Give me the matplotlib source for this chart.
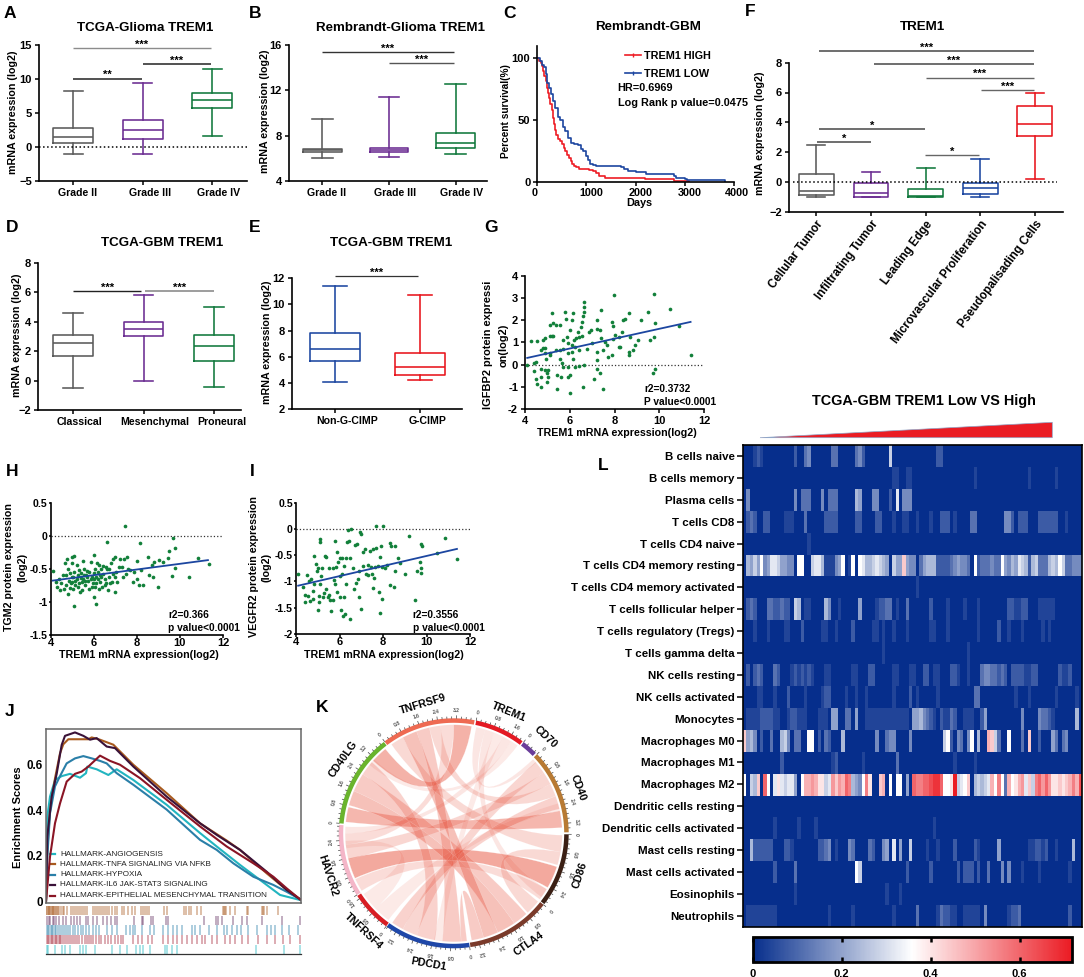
import numpy as np
import matplotlib
matplotlib.use('Agg')
import matplotlib.pyplot as plt
from matplotlib.colors import LinearSegmentedColormap
from matplotlib.lines import Line2D
from matplotlib.patches import PathPatch, Polygon
from matplotlib.path import Path
from matplotlib.transforms import Affine2D

plt.rcParams['font.family'] = ['Liberation Sans', 'DejaVu Sans']
plt.rcParams['font.weight'] = 'bold'

W, H = 1084, 977
GRAY, PURPLE, GREEN = '#5a5a5a', '#6a2c91', '#10783c'
BLUE, RED = '#1c46a0', '#e8141c'

# box stats: low whisker, q1, median, q3, high whisker
a_cats = ['Grade II', 'Grade III', 'Grade IV']
a_stats = [[-1.0, 0.6, 1.5, 2.8, 8.3], [-1.0, 1.2, 2.5, 4.0, 9.5], [1.7, 5.8, 6.9, 8.0, 11.5]]
b_stats = [[6.0, 6.6, 6.7, 6.85, 9.5], [6.1, 6.6, 6.7, 6.95, 11.4], [6.35, 6.9, 7.35, 8.25, 12.55]]
d_cats = ['Classical', 'Mesenchymal', 'Proneural']
d_stats = [[-0.53, 1.69, 2.52, 3.09, 4.58], [-0.05, 3.02, 3.48, 3.95, 5.78], [-0.46, 1.35, 2.37, 3.09, 4.99]]
e_cats = ['Non-G-CIMP', 'G-CIMP']
e_stats = [[4.08, 5.68, 6.62, 7.81, 11.37], [4.23, 4.64, 5.2, 6.29, 10.73]]
f_cats = ['Cellular Tumor', 'Infiltrating Tumor', 'Leading Edge', 'Microvascular Proliferation', 'Pseudopalisading Cells']
f_stats = [[-1.04, -0.86, -0.6, 0.53, 2.45], [-1.0, -1.0, -0.77, -0.05, 0.64], [-1.04, -1.0, -0.95, -0.48, 0.95],
           [-1.04, -0.81, -0.43, -0.05, 1.53], [0.17, 3.06, 3.88, 5.09, 5.94]]

# survival
red_days = [0, 40, 70, 95, 120, 145, 168, 190, 215, 240, 265, 290, 313, 340, 365, 386, 420, 460, 495, 540, 570, 605,
            640, 680, 714, 750, 787, 850, 969, 1050, 1130, 1188, 1250, 1370, 1700, 2200, 2750, 2790, 3000, 3080]
red_pct = [100, 98, 96, 94, 90, 86, 82, 76, 72, 68, 63, 58, 52, 47, 42, 38, 35, 33, 31, 28, 25, 22,
           20, 17, 15, 13, 12, 11, 10.7, 10, 9, 7.3, 5, 3.4, 3.2, 3, 2.7, 1, 1, 0]
blue_days = [0, 50, 95, 131, 170, 204, 240, 280, 313, 360, 423, 470, 520, 568, 620, 678, 750, 823, 880, 933, 985,
             1040, 1078, 1130, 1188, 1698, 1760, 1844, 2000, 2208, 2780, 2830, 3009, 3050, 3800, 3810]
blue_pct = [100, 98, 95, 93, 87, 80, 76, 71, 66, 60, 53, 50, 45, 41, 36, 32, 31, 30, 27, 25, 21,
            18, 15, 14, 12.8, 12.6, 11, 9.5, 8.5, 7, 5.3, 3.6, 3, 2, 2, 0]

# scatter panels (x, y)
igfbp2_pts = [(4.1, 0), (4.25, 1.05), (4.4, 0.05), (4.4, -0.3), (4.55, 1.05), (4.5, 0.1), (4.7, -0.2), (4.5, -0.63), (4.55, -0.88),
              (4.7, -1), (4.7, -0.55), (4.73, 0.65), (4.8, 0.75), (4.8, 1.1), (4.9, 1.2), (4.9, 0.75), (4.9, 0.5), (4.95, 0.27),
              (4.9, -0.25), (5, -0.4), (5, -0.8), (5.05, -0.25), (5.05, -0.55), (5.1, 0.52), (5.1, 1.27), (5.2, 1.27), (5.25, 1.3),
              (5.1, 0.42), (5.12, 1.77), (5.22, 2.3), (5.27, 1.85), (5.4, 1.77), (5.4, 0.65), (5.45, -0.48), (5.45, -1.12),
              (5.55, 1.77), (5.55, 0.65), (5.55, 0.27), (5.6, -0.55), (5.65, 0.05), (5.7, 1.12), (5.7, 0.72), (5.7, -0.1),
              (5.8, 2.37), (5.85, 2.07), (5.87, 1.25), (5.9, 0.95), (5.9, 0.5), (5.9, -0.1), (5.9, -0.55), (6, -0.48), (6.03, -1.3),
              (6, 1.55), (6.1, 2), (6.13, 2.32), (6.08, 0.87), (6.08, 0.57), (6.15, 0.27), (6.2, 1.1), (6.25, -0.1), (6.25, 0.8),
              (6.3, 1.2), (6.35, 1.47), (6.4, 1.25), (6.4, -0.07), (6.43, 0.65), (6.5, 1.7), (6.55, 1.92), (6.55, 1.3), (6.6, 2.2),
              (6.62, 2.37), (6.63, 2.6), (6.65, 2.82), (6.6, -1.03), (6.62, -0.03), (6.75, 0.72), (6.88, 1.47), (6.95, 1.55),
              (7, 0.97), (7.1, -0.63), (7.2, 2.02), (7.2, 1.62), (7.2, 0.57), (7.23, 0.2), (7.23, -0.18), (7.33, 1.55), (7.33, -0.4),
              (7.39, 2.45), (7.39, 1.2), (7.5, 0.65), (7.5, -1.12), (7.58, 1.02), (7.65, 0.87), (7.73, 0.35), (7.88, 0.42),
              (7.9, 1.92), (7.95, 1.74), (7.95, 1.17), (7.98, 3.15), (8.03, 1.32), (8.18, 1.25), (8.18, 0.8), (8.25, 0.77),
              (8.33, 1.47), (8.37, 2.02), (8.45, 2.07), (8.63, 2.3), (8.63, 0.57), (8.65, 0.42), (8.7, 1.25), (8.82, 0.67),
              (8.9, 0.87), (9.03, 1.1), (9.18, 2.02), (9.5, 2.37), (9.57, 1.12), (9.7, -0.37), (9.78, 3.16), (9.78, 1.25),
              (9.82, -0.18), (9.82, 1.85), (10.5, 2.5), (10.9, 1.72), (11.4, 0.42)]
tgm2_pts = [(4.1, -0.54), (4.25, -0.7), (4.3, -0.77), (4.4, -0.65), (4.45, -0.82), (4.5, -0.72), (4.55, -0.6), (4.6, -0.8), (4.65, -0.42),
            (4.7, -0.6), (4.7, -0.75), (4.75, -0.35), (4.8, -0.88), (4.8, -0.5), (4.85, -0.68), (4.9, -0.57), (4.95, -0.72), (5, -0.33),
            (5, -0.62), (5, -0.42), (5.05, -0.8), (5.1, -0.31), (5.1, -0.55), (5.1, -1.07), (5.15, -0.68), (5.2, -0.45), (5.25, -0.6),
            (5.3, -0.72), (5.35, -0.85), (5.4, -0.56), (5.45, -0.82), (5.5, -0.38), (5.5, -0.66), (5.55, -0.5), (5.6, -0.75), (5.65, -0.6),
            (5.7, -0.53), (5.75, -0.68), (5.8, -0.8), (5.85, -0.4), (5.9, -0.62), (5.95, -0.72), (6, -0.29), (6, -0.93), (6, -0.56),
            (6.05, -0.78), (6.1, -1.03), (6.1, -0.62), (6.15, -0.42), (6.2, -0.55), (6.25, -0.8), (6.3, -0.6), (6.3, -0.7), (6.35, -0.5),
            (6.4, -0.78), (6.45, -0.46), (6.5, -0.65), (6.55, -0.72), (6.6, -0.1), (6.6, -0.5), (6.65, -0.83), (6.7, -0.62), (6.8, -0.42),
            (6.85, -0.7), (6.9, -0.35), (7, -0.33), (7, -0.85), (7.05, -0.55), (7.1, -0.7), (7.2, -0.36), (7.3, -0.48), (7.35, -0.62),
            (7.4, -0.35), (7.47, 0.15), (7.5, -0.58), (7.55, -0.33), (7.6, -0.5), (7.7, -0.52), (7.8, -0.7), (7.85, -0.55), (8, -0.38),
            (8, -0.65), (8.1, -0.75), (8.15, -0.11), (8.2, -0.52), (8.3, -0.75), (8.5, -0.33), (8.55, -0.6), (8.7, -0.45), (8.75, -0.62),
            (8.8, -0.4), (9, -0.77), (9.05, -0.37), (9.2, -0.4), (9.5, -0.23), (9.63, -0.61), (9.7, -0.03), (9.75, -0.18), (9.75, -0.49),
            (9.45, -0.34), (10.4, -0.63), (10.85, -0.34), (11.33, -0.43), (4.9, -0.79), (5.0, -0.7), (5.05, -0.63), (5.12, -0.75),
            (5.2, -0.66), (5.25, -0.78), (5.3, -0.52), (5.4, -0.64), (5.45, -0.7), (5.55, -0.6), (5.6, -0.68), (5.7, -0.62), (5.8, -0.55),
            (5.85, -0.65), (5.9, -0.78), (6.0, -0.66), (6.05, -0.5), (6.1, -0.72), (6.2, -0.66), (6.25, -0.45), (6.35, -0.62), (6.45, -0.58),
            (6.5, -0.75), (6.55, -0.48), (6.7, -0.5), (6.75, -0.72), (6.9, -0.58), (7.0, -0.62), (7.15, -0.48)]
vegfr2_pts = [(4.1, -0.85), (4.3, -1.1), (4.4, -1.25), (4.4, -1.4), (4.5, -0.87), (4.55, -1.28), (4.6, -1), (4.65, -1.38), (4.7, -0.95),
              (4.8, -1.33), (4.8, -1.18), (4.85, -1.05), (4.85, -0.52), (4.9, -0.66), (4.95, -0.8), (5, -0.75), (5, -1.55), (5.05, -1.27),
              (5.05, -1.4), (5.1, -0.2), (5.1, -0.25), (5.1, -1.05), (5.15, -0.9), (5.2, -0.75), (5.25, -1.3), (5.3, -1.22), (5.35, -0.52),
              (5.4, -0.54), (5.4, -1.15), (5.45, -1.3), (5.5, -0.75), (5.5, -1.26), (5.55, -1.36), (5.6, -1.57), (5.7, -0.74), (5.7, -1.35),
              (5.75, -0.98), (5.8, -0.22), (5.8, -1.05), (5.85, -0.72), (5.9, -0.43), (5.9, -1.2), (5.95, -0.62), (6, -0.9), (6, -0.55),
              (6, -1.3), (6.05, -1.55), (6.1, -0.56), (6.1, -0.86), (6.15, -1.65), (6.2, -1.3), (6.2, -0.7), (6.25, -1.62), (6.3, -0.56),
              (6.3, -1.05), (6.35, -0.25), (6.4, -0.02), (6.45, -0.22), (6.5, -0.56), (6.5, -1.72), (6.55, 0), (6.6, -0.75), (6.65, -1.15),
              (6.7, -0.3), (6.75, -1.02), (6.8, -0.28), (6.85, -0.96), (6.9, -0.8), (6.9, -1.3), (6.95, -0.05), (7, -0.09), (7, -1.52),
              (7.1, -0.44), (7.15, -0.38), (7.2, -0.85), (7.3, -0.68), (7.4, -0.42), (7.5, -0.85), (7.55, -1.13), (7.6, -0.93), (7.55, -0.38),
              (7.7, 0.06), (7.7, -0.36), (7.75, -0.7), (7.8, -1.2), (7.85, -0.54), (7.86, -1.6), (7.9, -0.33), (7.94, -1.33), (8, 0.06),
              (8.1, -0.75), (8.3, -0.26), (8.35, -0.33), (8.3, -1.07), (8.5, -1.1), (8.55, -0.8), (8.55, -0.33), (8.7, -0.55), (8.8, -0.65),
              (9, -0.85), (9.2, -0.13), (9.47, -1.36), (9.55, -0.8), (9.73, -0.83), (9.73, -0.75), (9.7, -0.62), (9.78, -0.33), (9.73, -0.28),
              (10.47, -0.45), (10.85, -0.17), (11.39, -0.58), (7.1, -0.7), (7.3, -0.88), (7.45, -0.72), (7.65, -0.72), (7.95, -0.72), (8.2, -0.68)]

# enrichment curves: rank, score
gsea_names = ['HALLMARK-ANGIOGENSIS', 'HALLMARK-TNFA SIGNALING VIA NFKB', 'HALLMARK-HYPOXIA',
              'HALLMARK-IL6 JAK-STAT3 SIGNALING', 'HALLMARK-EPITHELIAL MESENCHYMAL TRANSITION']
gsea_colors = ['#22b5c0', '#a85a1e', '#2a7fa8', '#3a1238', '#8a1525']
angio_rank = [0, 4, 12, 27, 47, 72, 102, 120, 124, 152, 187, 212, 262, 362, 462, 512, 582, 642, 702, 762]
angio_es = [0, 0.372, 0.46, 0.533, 0.55, 0.56, 0.543, 0.563, 0.592, 0.58, 0.555, 0.58, 0.533, 0.424, 0.3, 0.241, 0.16, 0.094, 0.028, 0.006]
tnfa_rank = [0, 4, 12, 27, 42, 52, 67, 102, 127, 137, 162, 202, 262, 362, 462, 542, 582, 662, 722, 762]
tnfa_es = [0, 0.226, 0.4, 0.54, 0.65, 0.69, 0.712, 0.712, 0.712, 0.72, 0.71, 0.688, 0.6, 0.475, 0.343, 0.267, 0.226, 0.123, 0.05, 0.009]
hypoxia_rank = [0, 4, 12, 27, 42, 62, 87, 112, 137, 162, 182, 212, 262, 362, 462, 512, 562, 622, 682, 722, 762]
hypoxia_es = [0, 0.196, 0.387, 0.505, 0.55, 0.606, 0.628, 0.638, 0.628, 0.617, 0.606, 0.563, 0.512, 0.403, 0.27, 0.226, 0.167, 0.108, 0.072, 0.042, 0.009]
il6_rank = [0, 4, 17, 32, 47, 57, 87, 112, 132, 152, 182, 207, 262, 362, 462, 512, 582, 662, 722, 762]
il6_es = [0, 0.285, 0.46, 0.56, 0.687, 0.727, 0.742, 0.727, 0.71, 0.717, 0.68, 0.673, 0.592, 0.46, 0.343, 0.292, 0.226, 0.13, 0.05, 0.009]
emt_rank = [0, 12, 27, 42, 62, 87, 107, 127, 162, 192, 222, 282, 362, 462, 542, 622, 682, 722, 762]
emt_es = [0, 0.196, 0.343, 0.43, 0.526, 0.56, 0.57, 0.592, 0.64, 0.617, 0.6, 0.541, 0.446, 0.329, 0.241, 0.167, 0.108, 0.057, 0.009]

# hit positions under the curves
rug_tnfa = [0, 3, 5, 8, 10, 13, 15, 18, 20, 22, 25, 28, 30, 33, 36, 40, 44, 50, 55, 62, 74, 80, 86, 92, 98, 104, 110, 118, 122, 140, 146, 152,
            158, 164, 170, 176, 184, 190, 198, 206, 214, 227, 235, 245, 258, 266, 285, 290, 296, 302, 310, 355, 362, 414, 420, 428, 436, 452,
            466, 530, 540, 552, 568, 533, 652, 602, 536, 655, 662, 605, 648, 697]
rug_il6 = [2, 8, 12, 20, 25, 30, 40, 52, 60, 74, 84, 92, 102, 120, 127, 142, 152, 172, 182, 194, 207, 212, 264, 287, 292, 314, 320, 359, 365,
           474, 510, 517, 527, 562, 587, 602, 647, 707, 762]
rug_hypoxia = [2, 6, 10, 14, 18, 22, 26, 30, 36, 42, 48, 54, 60, 66, 72, 80, 88, 96, 104, 112, 120, 130, 140, 150, 160, 182, 197, 212, 240,
               252, 260, 267, 287, 312, 324, 352, 367, 380, 392, 407, 437, 447, 462, 490, 512, 534, 542, 557, 572, 584, 607, 632, 662, 674,
               687, 707, 730, 757]
rug_red = [2, 6, 10, 14, 18, 22, 26, 30, 34, 38, 42, 46, 50, 56, 62, 68, 74, 80, 86, 92, 100, 108, 116, 124, 130, 136, 142, 150, 158, 166,
           176, 186, 196, 206, 216, 226, 232, 262, 277, 287, 307, 317, 352, 367, 382, 392, 407, 422, 437, 452, 467, 477, 497, 512, 537,
           552, 567, 587, 607, 637, 662, 687, 712, 732, 762]
rug_angio = [2, 7, 27, 47, 57, 72, 102, 112, 120, 147, 197, 222, 242, 270, 282, 292, 312, 357, 362, 377, 392, 630, 714, 762]

# heatmap, one char per sample: base 36 digit, times 0.04
cell_types = ['B cells naive', 'B cells memory', 'Plasma cells', 'T cells CD8', 'T cells CD4 naive', 'T cells CD4 memory resting',
              'T cells CD4 memory activated', 'T cells follicular helper', 'T cells regulatory (Tregs)', 'T cells gamma delta',
              'NK cells resting', 'NK cells activated', 'Monocytes', 'Macrophages M0', 'Macrophages M1', 'Macrophages M2',
              'Dendritic cells resting', 'Dendritic cells activated', 'Mast cells resting', 'Mast cells activated', 'Eosinophils', 'Neutrophils']
heat_rows = [
    '0001210000 0000020034 0000003300 0003420000 0007000000 0000000220',
    '0000000000 0000000000 0000000000 0000000000 0000110011 0000000000 0000000010 0000000000 0000100000 0010000000',
    '0400000000 0000040333 0004033300 0006500044 0002080444',
    '0232002200 0011100030 0000222200 0002200002 2000100110 0100010022 2010000330 0000000442 0222000222 2220010000',
    '0000000000 0000000001',
    '0657594588 7554409900 7886111459 0190986678 7650755b54 4035666222 2345443092 3334339546 5876267333 6769733444',
    '0000000000 0000000000 0000000000 0000000000 0000000000 0100000000',
    '0232000332 2322076011 0000640010 0000500001 2233010030 0000020000 1000010001 0000000022 1122000111 1100000000',
    '0001000100 0011000200 0001100100 0020000011 0100100010 0000011000 1000000001 0000020010 0010000010 1000000000',
    '0000000000 0000000000 0000000000 0000000000 0100000000 0000000000 0000001000',
    '0202320003 2000121212 1000110000 0011000220 0000110001 1002201100 0221001000 3443323202 2221122000 0002112000',
    '0000110001 0002000010 0001220000 1001001000 0000100002 0100000100 0000000033 0000000000 1000100000 0010000010',
    '0111122221 1001221110 0011105500 3305001111 1111111110 5564321021 1320011100 2500000000 0040000433 2100000060',
    'b564020030 0674033009 9020320006 0000000004 0034400004 0000000007 9204304906 00cb730090 0030b00200 0530340000',
    '0000000000 0200000000 0000001200 0000010000 0000030000 0000000000 0010000010',
    '9076b0f908 a8788509cc dcaa78dbdc fe6549ea00 bc09099050 feeffghhf9 9ai789b067 678c9e93c9 acd8b7efdf daababcecg',
    '0',
    '0000000001 0000001000 0100000000 0000000000 0000000000 0000001000',
    '0062222220 0022100000 0022340100 0430000320 0450805007 0000100100 0020000021 0000050000 0000112212 0010000600',
    '0000000002 0000030000 0000000000 0009700000 0000000020 0000020000 0002022202 0030004040 0010000100 0000001000',
    '0000000000 0000010000 0000000000 0000000000 0010001000',
    '0111111111 0000000000 0000010000 0010000000 0000100000 0300000132 2110011111 0400000012 2300000000 0000002000',
]

# chord diagram, degrees clockwise from north
sector_names = ['TREM1', 'CD70', 'CD40', 'CD86', 'CTLA4', 'PDCD1', 'TNFRSF4', 'HAVCR2', 'CD40LG', 'TNFRSF9']
sector_starts = [11.3, 37.5, 46.5, 90.5, 128.5, 172, 216, 237.5, 275, 323]
sector_ends = [36.8, 45.6, 89.5, 128, 171.6, 215.6, 237, 274.2, 322.6, 370.5]
sector_colors = ['#e41a24', '#6a3d9a', '#b87a33', '#3b1f14', '#7a3a2a', '#1f47a8', '#d81e24', '#f4b6c8', '#6ab42d', '#ee6a52']
label_angles = [24.7, 43.8, 69.8, 108.4, 145.8, 191, 222.8, 251.5, 304, 346.5]
label_rots = [-22, -43, -70, 72, 35, -10, -43, -72, 55, 17]
links = [(245.5, 256.5, 108, 120, 0.5), (360, 369.5, 312, 321, 0.45), (276, 284, 78, 87, 0.42), (285, 293, 146, 156, 0.36),
         (293, 303, 138, 146, 0.3), (303, 311, 190, 200, 0.26), (332, 340, 156, 164, 0.36), (340, 347, 176, 186, 0.3),
         (347, 353, 63, 70, 0.22), (353, 360, 264, 270, 0.2), (325, 332, 91, 100, 0.22), (49, 56, 200, 208, 0.24),
         (56, 63, 256, 264, 0.24), (70, 77, 208, 214.5, 0.26), (12, 17, 47, 49.5, 0.14), (17, 22, 121, 126, 0.14),
         (22, 27, 186, 190.5, 0.12), (27, 32, 270, 273.5, 0.14), (32, 36, 309, 313, 0.12), (164, 170.5, 173, 176, 0.3),
         (129, 137, 100, 107, 0.22), (238, 245, 121, 127.5, 0.2), (217, 226, 74, 78, 0.12), (226, 236, 262, 266, 0.12)]

fig = plt.figure(figsize=(W / 100, H / 100), dpi=100)
pix = fig.add_axes([0, 0, 1, 1])
pix.set_xlim(0, W)
pix.set_ylim(H, 0)
pix.axis('off')


def put(x, y, s, size=8, **kw):
    kw.setdefault('ha', 'center')
    kw.setdefault('va', 'center')
    pix.text(x, y, s, fontsize=size, fontweight='bold', **kw)


def px_axes(left, top, right, bottom):
    ax = fig.add_axes([left / W, 1 - bottom / H, (right - left) / W, (bottom - top) / H])
    ax.patch.set_alpha(0)
    for s in ['top', 'right']:
        ax.spines[s].set_visible(False)
    for s in ['left', 'bottom']:
        ax.spines[s].set_linewidth(1.2)
    ax.tick_params(length=3, width=1.1, pad=2, labelsize=8)
    return ax


def shift_labels(ax, shifts):
    for lab, dx in zip(ax.get_xticklabels(), shifts):
        lab.set_transform(lab.get_transform() + Affine2D().translate(dx, 0))


def box_panel(box, x0, step, ylim, yticks, cats, stats, colors, bw, cw, shifts=None, size=7.6, lw=1.15):
    ax = px_axes(*box)
    ax.set_xlim((box[0] - x0) / step, (box[2] - x0) / step)
    ax.set_ylim(*ylim)
    for i, (st, c) in enumerate(zip(stats, colors)):
        d = dict(whislo=st[0], q1=st[1], med=st[2], q3=st[3], whishi=st[4], fliers=[])
        pr = dict(color=c, linewidth=lw)
        ax.bxp([d], positions=[i], widths=bw, capwidths=cw, showfliers=False, manage_ticks=False,
               boxprops=pr, medianprops=pr, whiskerprops=pr, capprops=pr)
    ax.set_yticks(yticks)
    ax.set_xticks(range(len(cats)))
    ax.set_xticklabels(cats, fontsize=size)
    if shifts:
        shift_labels(ax, shifts)
    return ax


def sig(ax, x0, x1, y, label, color='#333333', lw=1.0):
    ax.plot([x0, x1], [y, y], color=color, lw=lw, clip_on=False, solid_capstyle='butt')
    ax.annotate(label, ((x0 + x1) / 2, y), xytext=(0, 0.2), textcoords='offset points', ha='center', va='baseline',
                fontsize=8, fontweight='bold', annotation_clip=False)


# A
ax = box_panel((38.7, 45.3, 246.7, 181), 73.3, 69.5, (-5, 15), [-5, 0, 5, 10, 15], a_cats, a_stats, [GRAY, PURPLE, GREEN], 0.57, 0.27, [4.5, 6.8, 6.7])
ax.axhline(0, color='k', ls=':', lw=1.1)
sig(ax, 0, 1.975, 14.65, '***', '#8c8c8c')
sig(ax, 1, 1.98, 12.2, '***', '#333333', 1.2)
sig(ax, -0.01, 0.985, 10.1, '**', '#333333', 1.2)
put(145, 28, 'TCGA-Glioma TREM1', 9.6)
put(13, 112, 'mRNA expression (log2)', 7.7, rotation=90)
put(10, 13, 'A', 12.5)

# B
ax = box_panel((288.6, 45, 487, 181), 322.3, 66.6, (4, 16), [4, 8, 12, 16], a_cats, b_stats, [GRAY, PURPLE, GREEN], 0.58, 0.31, [4, 6, 6.5])
sig(ax, 0, 1.97, 15.35, '***')
sig(ax, 1, 1.97, 14.44, '***', '#555555')
put(401, 28, 'Rembrandt-Glioma TREM1', 9.6)
put(265, 111, 'mRNA expression (log2)', 7.7, rotation=90)
put(255, 13, 'B', 12.5)

# C
ax = px_axes(537.3, 46, 734, 182.3)
ax.set_xlim(0, 4000)
ax.set_ylim(0, 110)
ax.plot(red_days, red_pct, color='#ee1c25', lw=1.2, drawstyle='steps-post')
ax.plot(blue_days, blue_pct, color=BLUE, lw=1.2, drawstyle='steps-post')
ax.set_xticks([0, 1000, 2000, 3000, 4000])
ax.set_yticks([0, 50, 100])
ax.tick_params(axis='x', labelsize=7.8, pad=1)
shift_labels(ax, [-3, 4.7, 4.8, 4.6, 3.3])
h1 = Line2D([], [], color='#ee1c25', lw=1.2, marker='|', ms=3, label='TREM1 HIGH')
h2 = Line2D([], [], color=BLUE, lw=1.2, marker='|', ms=3, label='TREM1 LOW')
ax.legend(handles=[h1, h2], loc='upper left', bbox_to_anchor=(0.448, 0.963), frameon=False, fontsize=7.8,
          handlelength=1.4, handletextpad=0.35, labelspacing=0.75, borderpad=0, borderaxespad=0)
put(617.5, 88, 'HR=0.6969', 7.8, ha='left')
put(617.5, 102.7, 'Log Rank p value=0.0475', 7.8, ha='left')
put(648.4, 27, 'Rembrandt-GBM', 9.6)
put(506, 111, 'Percent survival(%)', 7.3, rotation=90)
put(639, 203.5, 'Days', 7.8)
put(509, 13, 'C', 12.5)

# F
ax = box_panel((789, 62.7, 1063, 211.7), 816.4, 54.6, (-2, 8), [-2, 0, 2, 4, 6, 8], f_cats, f_stats, [GRAY, PURPLE, GREEN, BLUE, RED], 0.64, 0.33)
ax.plot([-0.42, 4.4], [0, 0], color='k', ls=':', lw=1.1)
ax.set_xticklabels(f_cats, rotation=53, ha='right', va='top', rotation_mode='anchor', fontsize=8.4)
sig(ax, 0.04, 3.99, 8.8, '***', '#555555', 1.2)
sig(ax, 1.05, 3.99, 7.93, '***', '#555555', 1.2)
sig(ax, 2, 3.99, 7.0, '***', '#666666')
sig(ax, 3.02, 3.99, 6.14, '***', '#666666')
sig(ax, 0.05, 1.98, 3.57, '*', '#555555', 1.2)
sig(ax, 0.01, 1.0, 2.7, '*', '#555555', 1.2)
sig(ax, 1.98, 2.98, 1.83, '*', '#666666')
put(923, 27, 'TREM1', 9.6)
put(760, 133, 'mRNA expression (log2)', 7.7, rotation=90)
put(750, 11, 'F', 12.5)

# D
ax = box_panel((37.9, 262.7, 241, 410), 73, 70.5, (-2, 8), [-2, 0, 2, 4, 6, 8], d_cats, d_stats, [GRAY, PURPLE, GREEN], 0.56, 0.28, [6.2, 11.4, 8])
sig(ax, 0, 0.97, 6.08, '***', '#222222')
sig(ax, 1.02, 2, 6.08, '***', '#8c8c8c', 1.2)
put(162, 243, 'TCGA-GBM TREM1', 9.6)
put(17, 335, 'mRNA expression (log2)', 7.7, rotation=90)
put(12, 227, 'D', 12.5)

# E
ax = box_panel((292, 278, 462, 409.3), 335, 85, (2, 12), [2, 4, 6, 8, 10, 12], e_cats, e_stats, [BLUE, RED], 0.58, 0.29, [12, 8])
sig(ax, 0, 0.98, 12.15, '***', '#333333', 0.9)
put(391, 243, 'TCGA-GBM TREM1', 9.6)
put(267, 342.5, 'mRNA expression (log2)', 7.7, rotation=90)
put(255, 227, 'E', 12.5)


def scatter_panel(box, pts, ylim, yticks, line_y, line_x=(4.1, 11.4), tight=False):
    ax = px_axes(*box)
    ax.set_xlim(4, 12)
    ax.set_ylim(*ylim)
    ax.axhline(0, color='#333333', ls=':', lw=0.9)
    xy = np.array(pts)
    ax.scatter(xy[:, 0], xy[:, 1], s=7, color='#12803a', linewidths=0, zorder=3)
    ax.plot(line_x, line_y, color=BLUE, lw=1.3, zorder=4)
    ax.set_xticks([4, 6, 8, 10, 12])
    ax.set_yticks(yticks)
    ax.set_yticklabels([str(v) for v in yticks])
    if tight:
        ax.tick_params(axis='x', length=1.8, pad=0.3)
        ax.tick_params(axis='y', length=1.8, pad=0.5, labelsize=7.6)
    return ax


# G
scatter_panel((525, 275.7, 704, 409), igfbp2_pts, (-2, 4), [-2, -1, 0, 1, 2, 3, 4], (0.3, 1.92))
put(488, 345, 'IGFBP2 protein expressi', 7.9, rotation=90)
put(504, 345, 'on(log2)', 7.9, rotation=90)
put(644, 389, 'r2=0.3732', 7.3, ha='left')
put(644, 402, 'P value<0.0001', 7.3, ha='left')
put(617, 433, 'TREM1 mRNA expression(log2)', 7.7)
put(491, 227, 'G', 12.5)

# H
scatter_panel((50.7, 502.7, 223, 634.7), tgm2_pts, (-1.5, 0.5), [-1.5, -1, -0.5, 0, 0.5], (-0.68, -0.37), (4.1, 11.3), tight=True)
put(9, 567, 'TGM2 protein expression', 7.7, rotation=90)
put(22, 567, '(log2)', 7.7, rotation=90)
put(168, 615, 'r2=0.366', 7.3, ha='left')
put(168, 628, 'p value<0.0001', 7.3, ha='left')
put(139, 655, 'TREM1 mRNA expression(log2)', 7.7)
put(12, 471, 'H', 12.5)

# I
scatter_panel((296, 502.7, 470, 634), vegfr2_pts, (-2, 0.5), [-2, -1.5, -1, -0.5, 0, 0.5], (-1.08, -0.38), tight=True)
put(254, 567, 'VEGFR2 protein expression', 7.7, rotation=90)
put(267, 567, '(log2)', 7.7, rotation=90)
put(412.7, 615, 'r2=0.3556', 7.3, ha='left')
put(412.7, 628, 'p value<0.0001', 7.3, ha='left')
put(384, 655, 'TREM1 mRNA expression(log2)', 7.7)
put(252, 471, 'I', 12.5)

# J
ax = px_axes(46, 729, 300.7, 902.7)
for s in ax.spines.values():
    s.set_visible(True)
    s.set_color('#666666')
    s.set_linewidth(1.1)
ax.set_xlim(0, 764)
ax.set_ylim(-0.006, 0.757)
for r, v, c in zip([angio_rank, tnfa_rank, hypoxia_rank, il6_rank, emt_rank], [angio_es, tnfa_es, hypoxia_es, il6_es, emt_es], gsea_colors):
    ax.plot(r, v, color=c, lw=1.5)
ax.set_xticks([])
ax.set_yticks([0, 0.2, 0.4, 0.6])
ax.set_yticklabels(['0', '0.2', '0.4', '0.6'], fontsize=8.4)
ax.tick_params(axis='y', length=0, pad=2)
for y, name, c in zip([854, 864, 874.5, 884.5, 895.5], gsea_names, gsea_colors):
    pix.plot([50, 55], [y, y], color=c, lw=1.6, zorder=5)
    fig.text(60 / W, 1 - y / H, name, fontsize=5.9, fontweight='normal', va='center', color='#222222')
put(18, 817, 'Enrichment Scores', 8, rotation=90)
put(10, 712, 'J', 12.5)

ax = px_axes(46, 906, 300.7, 954)
ax.spines['left'].set_visible(False)
ax.spines['bottom'].set_linewidth(0.9)
ax.spines['bottom'].set_color('#333333')
ax.set_xlim(0, 764)
ax.set_ylim(0, 5)
ax.set_xticks([])
ax.set_yticks([])
for row, pos, c in zip([4, 3, 2, 1, 0], [rug_tnfa, rug_il6, rug_hypoxia, rug_red, rug_angio], ['#a85a1e', '#5e2a5c', '#2a7fa8', '#a52638', '#22b5c0']):
    ax.vlines(pos, row + 0.03, row + 0.97, color=c, alpha=0.45, lw=1.2)

# K
cx, cy, R = 453.7, 833.3, 115.0


def polar(deg, r):
    a = np.radians(deg)
    return cx + r * np.sin(a), cy - r * np.cos(a)


for a0, a1, c in zip(sector_starts, sector_ends, sector_colors):
    ang = np.linspace(a0, a1, 40)
    outer = [polar(a, R) for a in ang]
    inner = [polar(a, R - 4.5) for a in ang[::-1]]
    pix.add_patch(Polygon(outer + inner, closed=True, facecolor=c, edgecolor='none'))
    for i, a in enumerate(np.arange(a0, a1, 2.4)):
        major = i % 4 == 0
        p0, p1 = polar(a, R), polar(a, R + (2.6 if major else 1.5))
        pix.plot([p0[0], p1[0]], [p0[1], p1[1]], color='#444444', lw=0.5)
        if major:
            lx, ly = polar(a, R + 8)
            pix.text(lx, ly, '%g' % (i * 0.2), fontsize=3.6, color='#555555', ha='center', va='center', rotation=-a)

for a0, a1, b0, b1, alpha in links:
    rl = R - 6.5
    rc = 42
    arc_a = [polar(t, rl) for t in np.linspace(a0, a1, 8)]
    arc_b = [polar(t, rl) for t in np.linspace(b0, b1, 8)]
    verts = arc_a + [polar(a1, rc), polar(b0, rc), arc_b[0]] + arc_b[1:] + [polar(b1, rc), polar(a0, rc), arc_a[0]]
    codes = [Path.MOVETO] + [Path.LINETO] * 7 + [Path.CURVE4] * 3 + [Path.LINETO] * 7 + [Path.CURVE4] * 3
    pix.add_patch(PathPatch(Path(verts, codes), facecolor='#e8543f', edgecolor='white', linewidth=0.3, alpha=alpha))

for name, a, rot in zip(sector_names, label_angles, label_rots):
    lx, ly = polar(a, 133)
    put(lx, ly, name, 7.7, rotation=rot)
put(321.7, 707, 'K', 12.5)

# L
heat = np.array([[int(ch, 36) for ch in r.replace(' ', '').ljust(100, '0')[:100]] for r in heat_rows]) * 0.04
cmap = LinearSegmentedColormap.from_list('bwr2', [(0, '#062e8c'), (0.5, '#ffffff'), (1, '#eb1c24')])
ax = px_axes(743, 445, 1082, 926.7)
for s in ax.spines.values():
    s.set_visible(True)
    s.set_linewidth(1.2)
im = ax.imshow(heat, aspect='auto', cmap=cmap, vmin=0, vmax=0.717, interpolation='nearest')
ax.set_xticks([])
ax.set_yticks(range(len(cell_types)))
ax.set_yticklabels(cell_types, fontsize=8.25)
ax.tick_params(axis='y', length=4, width=1.1, pad=2)
put(924, 401, 'TCGA-GBM TREM1 Low VS High', 10.4)
pix.add_patch(Polygon([(760, 437.7), (1052.3, 422.3), (1052.3, 437.7)], closed=True, facecolor='#ea1c24', edgecolor='#8fa6c8', linewidth=0.5))
put(603, 466, 'L', 12.5)

cax = fig.add_axes([752.7 / W, 1 - 961.7 / H, 319 / W, 24.7 / H])
cb = fig.colorbar(im, cax=cax, orientation='horizontal', ticks=[0, 0.2, 0.4, 0.6])
cb.outline.set_linewidth(2)
cb.ax.set_xticklabels(['0', '0.2', '0.4', '0.6'], fontsize=8)
cb.ax.tick_params(axis='x', direction='in', length=3.5, width=1.8, top=True, bottom=True, pad=5)

fig.savefig('out.png', dpi=100)
